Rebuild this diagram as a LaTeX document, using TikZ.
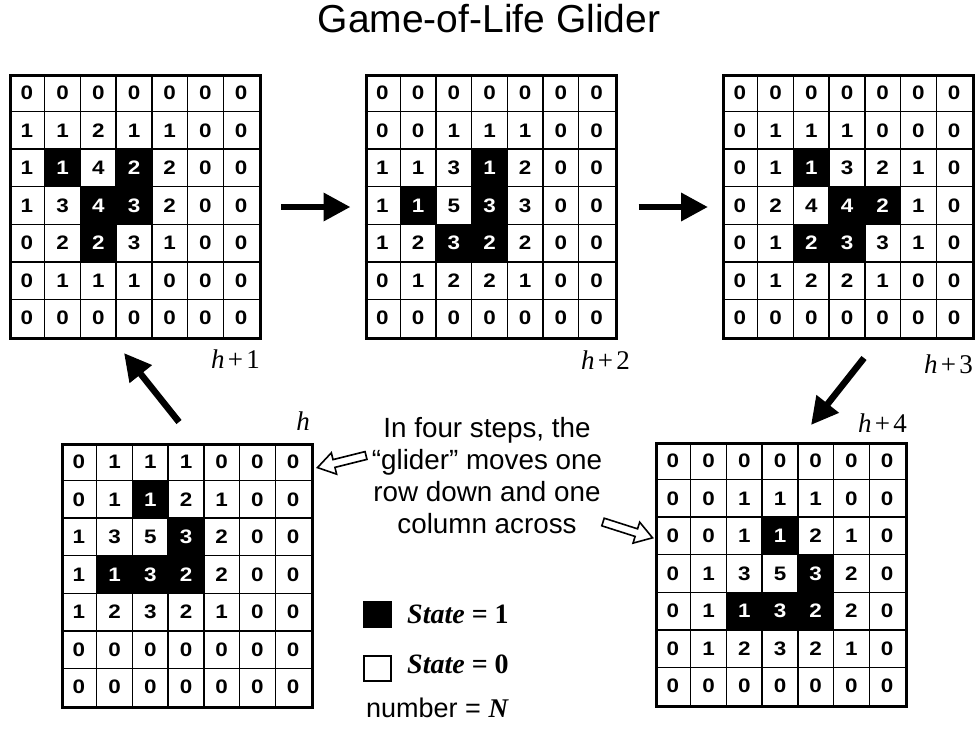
\documentclass[tikz,border=0pt]{standalone}
\usepackage{fontspec}
\setmainfont{Liberation Serif}
\setsansfont{Liberation Sans}
\newfontfamily\cellfont[FakeStretch=1.15]{Liberation Sans}
\usetikzlibrary{arrows.meta,calc}

\newcommand\cw{35.714}
\newcommand\chh{37.571}

\tikzset{
  cellnum/.style={inner sep=0, font=\cellfont\bfseries\fontsize{19.5}{19.5}\selectfont},
  blackcell/.style={cellnum, fill=black, text=white, minimum width=35.714pt, minimum height=37.571pt},
  whitecell/.style={cellnum},
  gridline/.style={line width=1.4pt},
  gridbox/.style={draw, line width=3pt, minimum width=250pt, minimum height=263pt, inner sep=0},
  steplabel/.style={font=\fontsize{27}{27}\selectfont, inner sep=0, anchor=base east},
  bigarrow/.style={line width=6.5pt, -{Triangle[length=27pt,width=27pt]}},
  hollowarrow/.style={draw, line width=1.6pt, fill=white, line join=miter},
  keybox/.style={draw, line width=1.5pt, minimum width=27pt, minimum height=25pt, inner sep=0, anchor=north west},
  keytext/.style={anchor=base west, inner sep=0, font=\fontsize{28}{28}\selectfont\bfseries},
}

\newcommand\lifegrid[4]{%
  \foreach \rowdata [count=\rr] in {#4} {%
    \foreach \v [count=\cc] in \rowdata {%
      \pgfmathtruncatemacro\absv{abs(\v)}%
      \ifnum\v<0
        \node[blackcell] (#1-\rr-\cc) at ({#2+(\cc-0.5)*\cw},{#3+(\rr-0.5)*\chh}) {\absv};
      \else
        \node[whitecell] (#1-\rr-\cc) at ({#2+(\cc-0.5)*\cw},{#3+(\rr-0.5)*\chh}) {\absv};
      \fi
    }%
  }%
  \foreach \i in {1,...,6} {%
    \draw[gridline] ({#2+\i*\cw},#3) -- ({#2+\i*\cw},{#3+263});
    \draw[gridline] (#2,{#3+\i*\chh}) -- ({#2+250},{#3+\i*\chh});
  }%
  \node[gridbox, anchor=north west] (#1) at (#2,#3) {};
}

% hollow block arrow: #1 tail coordinate, #2 page angle, #3 length
\newcommand\hollowarrow[3]{%
  \begin{scope}[shift={(#1)}, rotate=#2]
    \draw[hollowarrow] (0,-4) -- ({#3-17},-4) -- ({#3-17},-11) -- (#3,0) -- ({#3-17},11) -- ({#3-17},4) -- (0,4) -- cycle;
  \end{scope}%
}

\newcommand\hl[1]{{\itshape h}\kern0.12em+\kern0.12em#1}

\begin{document}
\begin{tikzpicture}[x=1pt,y=-1pt]
\useasboundingbox (0,0) rectangle (976,731);

\node[font=\sffamily\fontsize{39}{39}\selectfont, anchor=base, inner sep=0] (title) at (489,32) {Game-of-Life Glider};

\lifegrid{g1}{9}{74}{{0,0,0,0,0,0,0},{1,1,2,1,1,0,0},{1,-1,4,-2,2,0,0},{1,3,-4,-3,2,0,0},{0,2,-2,3,1,0,0},{0,1,1,1,0,0,0},{0,0,0,0,0,0,0}}
\lifegrid{g2}{364.5}{74}{{0,0,0,0,0,0,0},{0,0,1,1,1,0,0},{1,1,3,-1,2,0,0},{1,-1,5,-3,3,0,0},{1,2,-3,-2,2,0,0},{0,1,2,2,1,0,0},{0,0,0,0,0,0,0}}
\lifegrid{g3}{722}{74}{{0,0,0,0,0,0,0},{0,1,1,1,0,0,0},{0,1,-1,3,2,1,0},{0,2,4,-4,-2,1,0},{0,1,-2,-3,3,1,0},{0,1,2,2,1,0,0},{0,0,0,0,0,0,0}}
\lifegrid{g0}{61}{443}{{0,1,1,1,0,0,0},{0,1,-1,2,1,0,0},{1,3,5,-3,2,0,0},{1,-1,-3,-2,2,0,0},{1,2,3,2,1,0,0},{0,0,0,0,0,0,0},{0,0,0,0,0,0,0}}
\lifegrid{g4}{655}{442}{{0,0,0,0,0,0,0},{0,0,1,1,1,0,0},{0,0,1,-1,2,1,0},{0,1,3,5,-3,2,0},{0,1,-1,-3,-2,2,0},{0,1,2,3,2,1,0},{0,0,0,0,0,0,0}}

\node[steplabel] (l1) at (260,368) {\hl{1}};
\node[steplabel] (l2) at (630,369) {\hl{2}};
\node[steplabel] (l3) at (973,373) {\hl{3}};
\node[steplabel] (l4) at (907,432) {\hl{4}};
\node[steplabel] (l0) at (310,430) {\itshape h};

\draw[bigarrow] ($(g1.east)+(19,0)$) -- ($(g2.west)+(-14,0)$);
\draw[bigarrow] ($(g2.east)+(21,0)$) -- ($(g3.west)+(-14,0)$);
\draw[bigarrow] ($(g3.south)+(15.5,18)$) -- ($(g4.north)+(29.5,-17)$);
\draw[bigarrow] ($(g0.north)+(-8.5,-21)$) -- ($(g1.south)+(-11.5,13)$);

\node[font=\sffamily\fontsize{27.8}{32}\selectfont, align=center, inner sep=0, anchor=base] (note) at (487,533)
  {In four steps, the\\“glider” moves one\\row down and one\\column across};

\coordinate (ha0tail) at (366,455.5);
\coordinate (ha4tail) at (603,522);
\hollowarrow{ha0tail}{194}{50}
\hollowarrow{ha4tail}{-17.7}{52}

\node[keybox, fill=black] (key1) at (363,601) {};
\node[keytext] (key1t) at (407,623) {\textit{State} = 1};
\node[keybox] (key0) at (363,655) {};
\node[keytext] (key0t) at (407,673) {\textit{State} = 0};
\node[anchor=base west, inner sep=0, font=\sffamily\fontsize{27}{27}\selectfont] (keyn) at (366,717) {number = {\rmfamily\bfseries\itshape N}};
\end{tikzpicture}
\end{document}
